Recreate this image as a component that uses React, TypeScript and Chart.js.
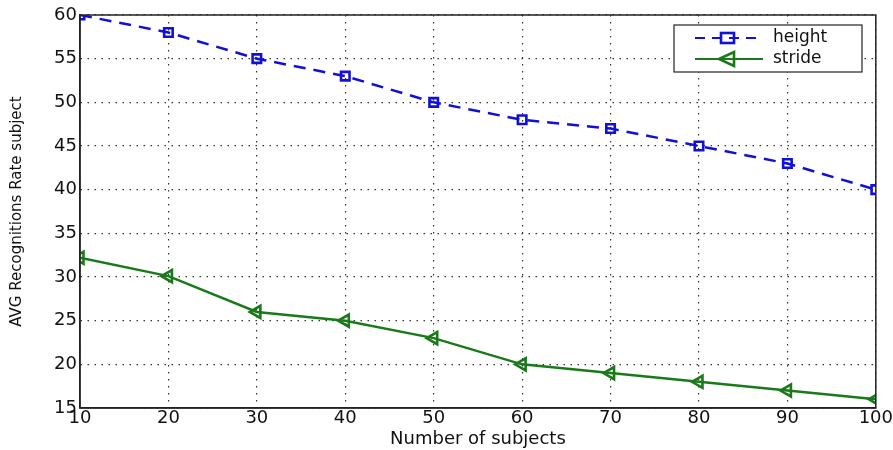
import React, { useEffect, useRef } from "react";
import { Chart, registerables } from "chart.js";

Chart.register(...registerables);

const subjects = [10, 20, 30, 40, 50, 60, 70, 80, 90, 100];
const heightRate = [60, 58, 55, 53, 50, 48, 47, 45, 43, 40];
const strideRate = [32.2, 30.1, 26, 25, 23, 20, 19, 18, 17, 16];
const seriesNames = ["height", "stride"];

const BLUE = "#1010d8";
const GREEN = "#1a7a1a";
const FONT = "'DejaVu Sans', 'Liberation Sans', Arial, sans-serif";

const framePlugin = {
  id: "frame",
  afterDraw(chart: any) {
    const { ctx, chartArea } = chart;
    ctx.save();
    ctx.strokeStyle = "#222";
    ctx.lineWidth = 1.5;
    ctx.strokeRect(chartArea.left, chartArea.top, chartArea.right - chartArea.left, chartArea.bottom - chartArea.top);
    // legend box
    const bx = 674, by = 25, bw = 188, bh = 47;
    ctx.fillStyle = "#fff";
    ctx.fillRect(bx, by, bw, bh);
    ctx.strokeStyle = "#222";
    ctx.lineWidth = 1.2;
    ctx.strokeRect(bx, by, bw, bh);
    const rows = [
      { name: seriesNames[0], color: BLUE, dash: [10, 7], y: 38 },
      { name: seriesNames[1], color: GREEN, dash: [], y: 59 },
    ];
    rows.forEach((r, i) => {
      ctx.strokeStyle = r.color;
      ctx.lineWidth = 2.2;
      ctx.setLineDash(r.dash);
      ctx.beginPath();
      ctx.moveTo(695, r.y);
      ctx.lineTo(763, r.y);
      ctx.stroke();
      ctx.setLineDash([]);
      ctx.lineWidth = 2.6;
      if (i === 0) {
        ctx.strokeRect(721, r.y - 5, 13, 10);
      } else {
        ctx.beginPath();
        ctx.moveTo(719, r.y);
        ctx.lineTo(734, r.y - 7);
        ctx.lineTo(734, r.y + 7);
        ctx.closePath();
        ctx.stroke();
      }
      ctx.fillStyle = "#111";
      ctx.font = "17px " + FONT;
      ctx.textBaseline = "middle";
      ctx.textAlign = "left";
      ctx.fillText(r.name, 773, r.y);
    });
    ctx.restore();
  },
};

export default function App() {
  const ref = useRef<HTMLCanvasElement>(null);
  useEffect(() => {
    document.body.style.margin = "0";
    const chart = new Chart(ref.current!, {
      type: "line",
      data: {
        datasets: [
          {
            label: seriesNames[0],
            data: subjects.map((x, i) => ({ x, y: heightRate[i] })),
            borderColor: BLUE,
            borderWidth: 2.5,
            borderDash: [12, 8],
            pointStyle: "rect",
            pointRadius: 6,
            pointBorderWidth: 2.6,
            pointBorderColor: BLUE,
            pointBackgroundColor: "transparent",
            tension: 0,
          },
          {
            label: seriesNames[1],
            data: subjects.map((x, i) => ({ x, y: strideRate[i] })),
            borderColor: GREEN,
            borderWidth: 2.5,
            pointStyle: "triangle",
            rotation: -90,
            pointRadius: 7,
            pointBorderWidth: 2.6,
            pointBorderColor: GREEN,
            pointBackgroundColor: "transparent",
            tension: 0,
          },
        ],
      },
      options: {
        animation: false,
        responsive: false,
        layout: { padding: { top: 15, right: 16, left: 0, bottom: 0 } },
        plugins: { legend: { display: false }, tooltip: { enabled: false } },
        scales: {
          x: {
            type: "linear",
            min: 10,
            max: 100,
            afterFit: (s: any) => { s.height = 42; },
            ticks: { stepSize: 10, color: "#111", font: { size: 18, family: FONT }, padding: 0 },
            grid: { color: "#333", lineWidth: 1.2, drawTicks: false },
            border: { display: true, color: "#222", width: 1.5, dash: [1.5, 5.5] },
            title: { display: true, text: "Number of subjects", color: "#111", font: { size: 18, family: FONT }, padding: { top: -7, bottom: 0 } },
          },
          y: {
            min: 15,
            max: 60,
            afterFit: (s: any) => { s.width = 80; },
            ticks: { stepSize: 5, color: "#111", font: { size: 18, family: FONT }, padding: 3 },
            grid: { color: "#333", lineWidth: 1.2, drawTicks: false },
            border: { display: true, color: "#222", width: 1.5, dash: [1.5, 5.5] },
            title: { display: true, text: "AVG Recognitions Rate subject", color: "#111", font: { size: 15, family: FONT }, padding: { top: 8, bottom: 0 } },
          },
        },
      },
      plugins: [framePlugin],
    } as any);
    return () => chart.destroy();
  }, []);
  return (
    <div style={{ position: "absolute", left: 0, top: 0, width: 893, height: 450, background: "#fff" }}>
      <canvas ref={ref} width={893} height={450} style={{ width: 893, height: 450 }} />
    </div>
  );
}
